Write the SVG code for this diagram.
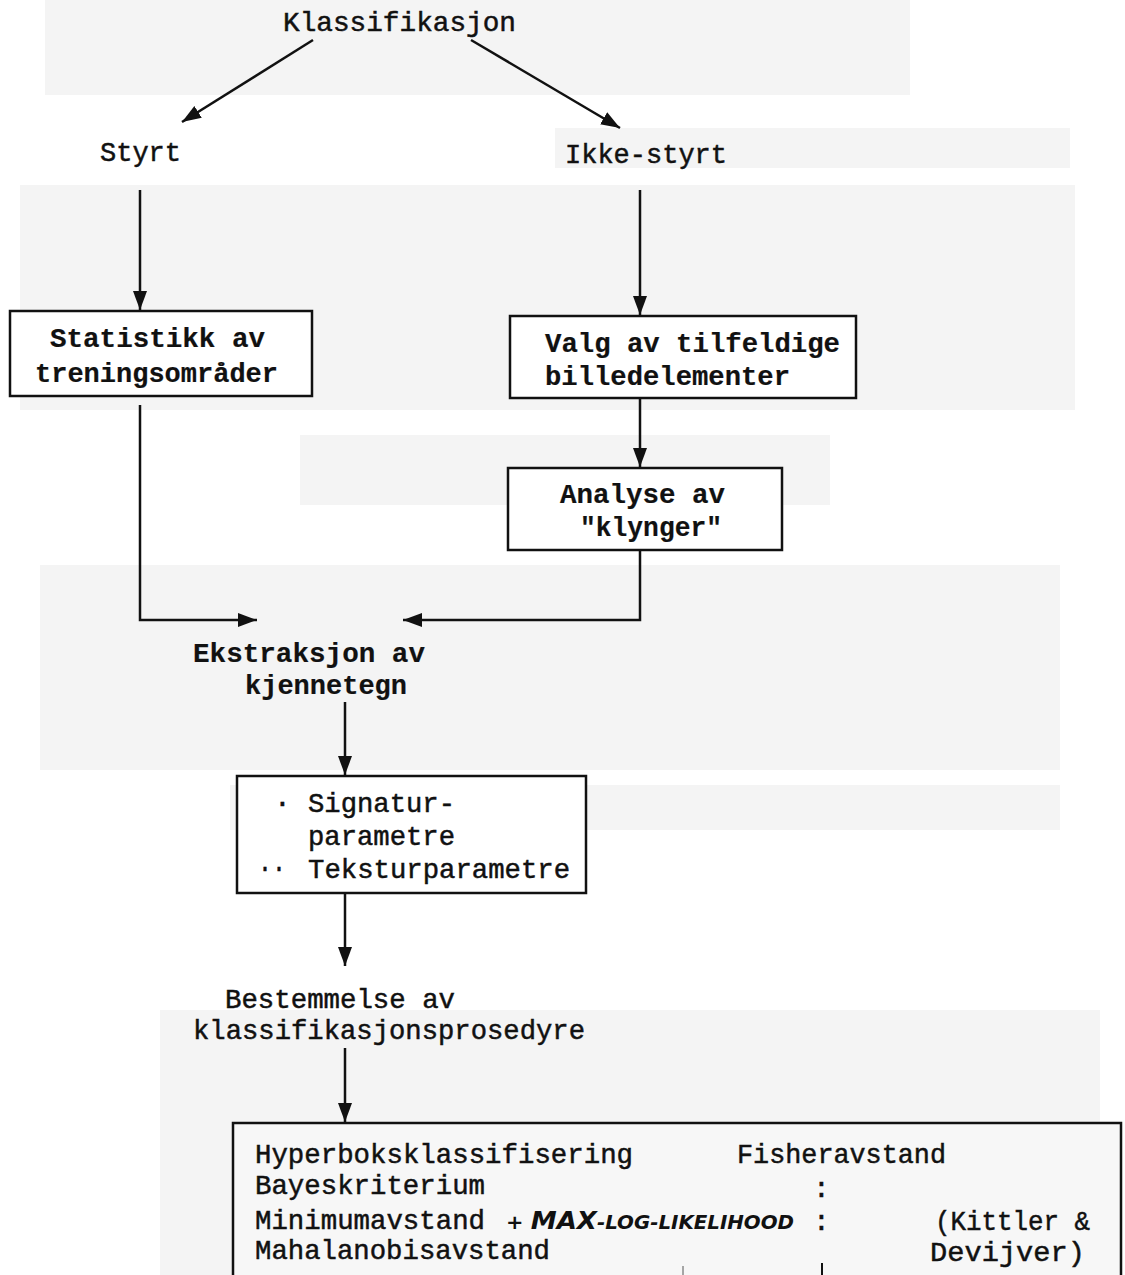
<svg xmlns="http://www.w3.org/2000/svg" width="1125" height="1275" viewBox="0 0 1125 1275">
<style>
.t{font-family:"Liberation Mono","DejaVu Sans Mono",monospace;font-size:28px;fill:#111;stroke:#111;stroke-width:0.5}
.b{font-weight:bold;stroke-width:0.2}
.box{fill:#fff;stroke:#111;stroke-width:2.5}
.c{fill:none;stroke:#111;stroke-width:2.5}
.bg{fill:#f4f4f4}
</style>
<defs>
<marker id="ah" markerUnits="userSpaceOnUse" markerWidth="20" markerHeight="16" refX="19" refY="7" orient="auto">
<path d="M0,0 L19,7 L0,14 z" fill="#111"/>
</marker>
</defs>
<rect width="1125" height="1275" fill="#fff"/>
<g id="background">
<rect class="bg" x="45" y="0" width="865" height="95"/>
<rect class="bg" x="555" y="128" width="515" height="40"/>
<rect class="bg" x="20" y="185" width="1055" height="225"/>
<rect class="bg" x="300" y="435" width="530" height="70"/>
<rect class="bg" x="40" y="565" width="1020" height="205"/>
<rect class="bg" x="230" y="785" width="830" height="45"/>
<rect class="bg" x="160" y="1010" width="940" height="265"/>
</g>
<g id="connectors">
<line class="c" x1="313" y1="40" x2="182" y2="122" marker-end="url(#ah)"/>
<line class="c" x1="471" y1="40" x2="620" y2="128" marker-end="url(#ah)"/>
<line class="c" x1="140" y1="190" x2="140" y2="310" marker-end="url(#ah)"/>
<line class="c" x1="640" y1="190" x2="640" y2="315" marker-end="url(#ah)"/>
<line class="c" x1="640" y1="398" x2="640" y2="467" marker-end="url(#ah)"/>
<path class="c" d="M140,405 V620 H257" marker-end="url(#ah)"/>
<path class="c" d="M640,550 V620 H403" marker-end="url(#ah)"/>
<line class="c" x1="345" y1="702" x2="345" y2="775" marker-end="url(#ah)"/>
<line class="c" x1="345" y1="893" x2="345" y2="966" marker-end="url(#ah)"/>
<line class="c" x1="345" y1="1048" x2="345" y2="1122" marker-end="url(#ah)"/>
</g>
<g id="n-klassifikasjon"><text class="t" x="283" y="31" textLength="233" lengthAdjust="spacingAndGlyphs">Klassifikasjon</text></g>
<g id="n-styrt"><text class="t" x="100" y="161" textLength="81" lengthAdjust="spacingAndGlyphs">Styrt</text></g>
<g id="n-ikke-styrt"><text class="t" x="565" y="163" textLength="162" lengthAdjust="spacingAndGlyphs">Ikke-styrt</text></g>
<g id="n-statistikk">
<rect class="box" x="10" y="311" width="302" height="85"/>
<text class="t b" x="50" y="347" textLength="215" lengthAdjust="spacingAndGlyphs">Statistikk av</text>
<text class="t b" x="35" y="382" textLength="243" lengthAdjust="spacingAndGlyphs">treningsområder</text>
</g>
<g id="n-valg">
<rect class="box" x="510" y="316" width="346" height="82"/>
<text class="t b" x="545" y="352" textLength="295" lengthAdjust="spacingAndGlyphs">Valg av tilfeldige</text>
<text class="t b" x="545" y="385" textLength="245" lengthAdjust="spacingAndGlyphs">billedelementer</text>
</g>
<g id="n-analyse">
<rect class="box" x="508" y="468" width="274" height="82"/>
<text class="t b" x="560" y="503" textLength="165" lengthAdjust="spacingAndGlyphs">Analyse av</text>
<text class="t b" x="580" y="536" textLength="142" lengthAdjust="spacingAndGlyphs">"klynger"</text>
</g>
<g id="n-ekstraksjon">
<text class="t b" x="193" y="662" textLength="232" lengthAdjust="spacingAndGlyphs">Ekstraksjon av</text>
<text class="t b" x="245" y="694" textLength="162" lengthAdjust="spacingAndGlyphs">kjennetegn</text>
</g>
<g id="n-parametre">
<rect class="box" x="237" y="776" width="349" height="117"/>
<text class="t" x="274" y="812">·</text>
<text class="t" x="308" y="812" textLength="147" lengthAdjust="spacingAndGlyphs">Signatur-</text>
<text class="t" x="308" y="845" textLength="147" lengthAdjust="spacingAndGlyphs">parametre</text>
<text class="t" x="258" y="877" textLength="28" lengthAdjust="spacingAndGlyphs">··</text>
<text class="t" x="308" y="878" textLength="262" lengthAdjust="spacingAndGlyphs">Teksturparametre</text>
</g>
<g id="n-bestemmelse">
<text class="t" x="225" y="1008" textLength="230" lengthAdjust="spacingAndGlyphs">Bestemmelse av</text>
<text class="t" x="193" y="1039" textLength="392" lengthAdjust="spacingAndGlyphs">klassifikasjonsprosedyre</text>
</g>
<g id="n-metoder">
<path class="c" d="M233,1275 V1123 H1121 V1275" style="fill:#f7f7f7"/>
<text class="t" x="255" y="1163" textLength="378" lengthAdjust="spacingAndGlyphs">Hyperboksklassifisering</text>
<text class="t" x="737" y="1163" textLength="209" lengthAdjust="spacingAndGlyphs">Fisheravstand</text>
<text class="t" x="255" y="1194" textLength="230" lengthAdjust="spacingAndGlyphs">Bayeskriterium</text>
<text class="t" x="255" y="1229" textLength="230" lengthAdjust="spacingAndGlyphs">Minimumavstand</text>
<text x="506" y="1229" style="font-family:'DejaVu Sans',sans-serif;font-weight:bold;font-style:italic;fill:#111" textLength="288" lengthAdjust="spacingAndGlyphs"><tspan font-size="20">+ </tspan><tspan font-size="25">MAX</tspan><tspan font-size="19">-LOG-LIKELIHOOD</tspan></text>
<text class="t" x="813" y="1197">:</text>
<text class="t" x="813" y="1230">:</text>
<text class="t" x="935" y="1230" textLength="155" lengthAdjust="spacingAndGlyphs">(Kittler &amp;</text>
<text class="t" x="255" y="1259" textLength="295" lengthAdjust="spacingAndGlyphs">Mahalanobisavstand</text>
<text class="t" x="930" y="1261" textLength="155" lengthAdjust="spacingAndGlyphs">Devijver)</text>
<line x1="822" y1="1263" x2="822" y2="1275" stroke="#111" stroke-width="2"/>
<line x1="683" y1="1266" x2="683" y2="1275" stroke="#555" stroke-width="1"/>
</g>
</svg>
